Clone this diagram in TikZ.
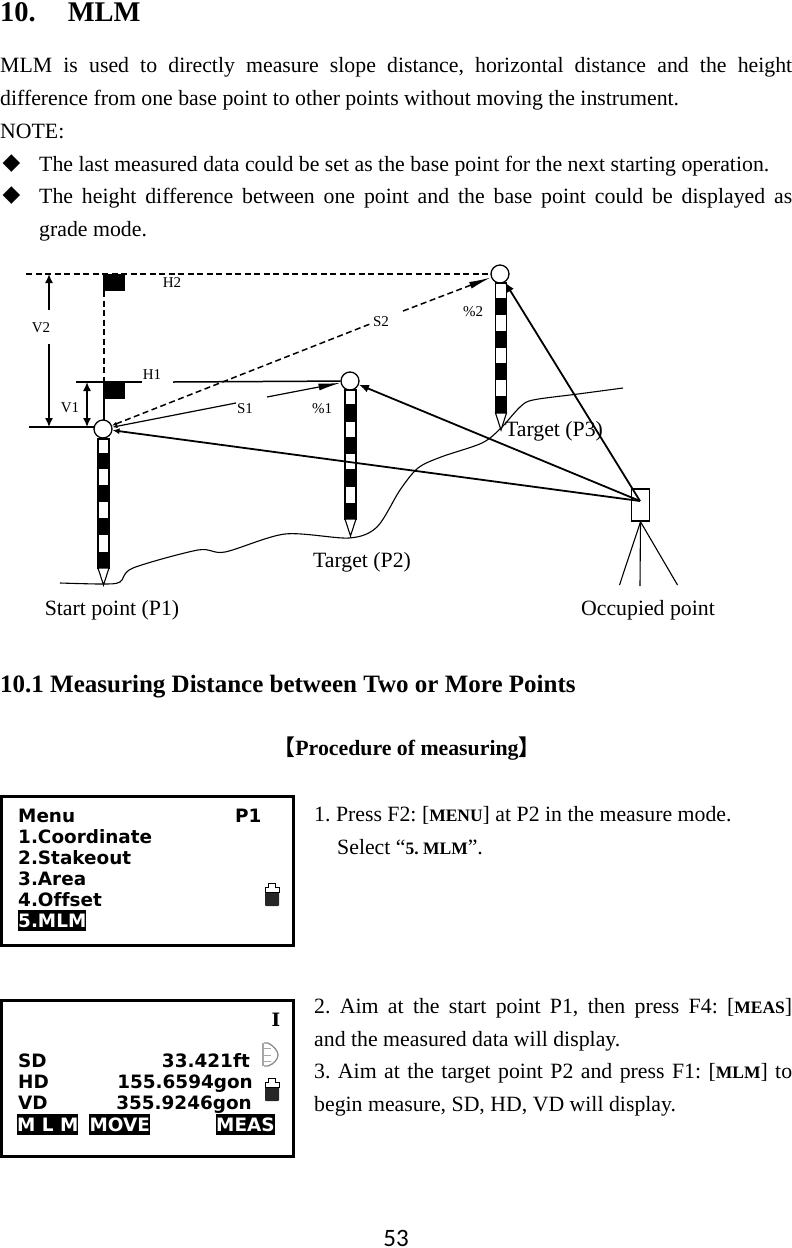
\documentclass[tikz,border=0pt]{standalone}
\usepackage{fontspec}
\usetikzlibrary{arrows.meta}
\setmainfont{Liberation Serif}
\newfontfamily\lcdfont[Ligatures=NoCommon]{DejaVu Sans}
\newfontfamily\lcdserif{DejaVu Serif}
\newfontfamily\symfont{DejaVu Sans}
\newfontfamily\cjkfont{Noto Sans CJK SC}
\newfontfamily\pagefont{Carlito}
\frenchspacing
\tikzset{
  body/.style={anchor=north west, inner sep=0pt, align=justify, font=\fontsize{21.8}{32.7}\selectfont},
  line1/.style={anchor=base west, inner sep=0pt, font=\fontsize{21.8}{26}\selectfont},
  small/.style={inner sep=0pt, font=\fontsize{15}{18}\selectfont},
  caption/.style={inner sep=0pt, font=\fontsize{21.8}{26}\selectfont},
  bulletmark/.style={inner sep=0pt, font=\symfont\fontsize{23}{25}\selectfont},
  head/.style={circle, draw, line width=1.3pt, fill=white, minimum size=18pt, inner sep=0pt},
  lcd/.style={anchor=base west, inner sep=0pt, font=\lcdfont\bfseries\fontsize{18.4}{21}\selectfont},
  lcdr/.style={anchor=base east, inner sep=0pt, font=\lcdfont\bfseries\fontsize{18.4}{21}\selectfont},
  softkey/.style={fill=black, text=white, inner sep=0pt, minimum height=21pt, font=\lcdfont\bfseries\fontsize{18.4}{21}\selectfont},
  screen/.style={draw, line width=3pt, anchor=north west, inner sep=0pt},
  sight/.style={line width=1.8pt, -{Latex[length=10pt,width=8pt]}},
  sightshort/.style={line width=1.8pt, -{Latex[length=7pt,width=6pt]}},
  dimline/.style={line width=1.5pt},
  dashline/.style={line width=1.5pt, dash pattern=on 6pt off 3.5pt},
  longtip/.style={-{Latex[length=22pt,width=7pt]}},
  shorttip/.style={{Latex[length=5pt,width=4pt]}-},
  dimtip/.style={-{Latex[length=9pt,width=8pt]}},
  battery/.pic={
    \fill[black!85, rounded corners=1pt] (-7,-4) rectangle (7,11);
    \draw[line width=1pt, fill=white] (-7,-3) -- (-7,-8) -- (-3.5,-8) -- (-3.5,-12) -- (3.5,-12) -- (3.5,-8) -- (7,-8) -- (7,-3) -- cycle;
  }
}
\newcommand{\mn}[1]{{\bfseries\fontsize{17.5}{20}\selectfont #1}}
\begin{document}
\begin{tikzpicture}[x=1pt,y=-1pt]
  \useasboundingbox (0,0) rectangle (792,1248);
  % text on top of the page
  \node[anchor=base west, inner sep=0pt, font=\bfseries\fontsize{28.5}{30}\selectfont] (title) at (0,21) {10.\hspace{32pt}MLM};
  \node[body, text width=792pt] (intro) at (0,57) {MLM is used to directly measure slope distance, horizontal distance and the height\linebreak difference from one base point to other points without moving the instrument.};
  \node[line1] (note) at (0,138) {NOTE:};
  \node[bulletmark] (bulletA) at (11.5,163.5) {◆};
  \node[line1] (noteA) at (39,171) {The last measured data could be set as the base point for the next starting operation.};
  \node[bulletmark] (bulletB) at (11.5,196) {◆};
  \node[body, text width=753pt] (noteB) at (39,188) {The height difference between one point and the base point could be displayed as\linebreak grade mode.};

  % ground line
  \draw[line width=1.1pt, smooth] plot coordinates {(60,583) (103,584) (120,582) (133,568) (198,550) (225,552) (285,534) (349,538) (377,527) (400,490) (418,468) (441,457) (482,443) (501,428) (520,407) (533,400) (578,394) (623,388)};

  % staffs
  \foreach \xs/\ya/\yb in {103.5/439/568, 350.5/390/519, 501/283/413}{
    \draw[line width=1.3pt, fill=white] (\xs-5.5,\ya) rectangle (\xs+5.5,\yb);
    \draw[line width=1.1pt, fill=white] (\xs-5.5,\yb) -- (\xs+5.5,\yb) -- (\xs,\yb+17) -- cycle;
  }
  \foreach \xs/\ya/\yb in {103.5/453/469, 103.5/485/502, 103.5/518/535, 103.5/552/568,
                           350.5/404/422, 350.5/437/454, 350.5/469/487, 350.5/503/519,
                           501/298/315, 501/331/348, 501/363/380, 501/396/413}{
    \fill (\xs-5.5,\ya) rectangle (\xs+5.5,\yb);
  }

  % flags
  \fill (103,274) rectangle (125,291);
  \fill (103,382) rectangle (125,399);
  \draw[dashline] (104,291) -- (104,382);
  \draw[dimline] (104,399) -- (104,422);

  % instrument
  \node[draw, line width=1.5pt, fill=white, minimum width=18pt, minimum height=32pt, inner sep=0pt] (occ) at (640.5,505) {};
  \coordinate (eye) at (640,501);
  \coordinate (legA) at (619.5,585);
  \coordinate (legB) at (640,586);
  \coordinate (legC) at (677.5,585);
  \draw[line width=1.1pt] (occ.south) -- (legA);
  \draw[line width=1.1pt] (occ.south) -- (legB);
  \draw[line width=1.1pt] (occ.south) -- (legC);

  % target heads
  \node[head] (pOne) at (103,429) {};
  \node[head] (pTwo) at (350,381) {};
  \node[head] (pThree) at (500,274) {};

  \draw[sightshort] (eye) -- (pOne);
  \draw[sight] (eye) -- (pTwo);
  \draw[sight] (eye) -- (pThree);

  % horizontal and vertical distances
  \coordinate (hTwoL) at (26,274);
  \coordinate (hOneL) at (76,382);
  \coordinate (hOneM) at (142,382);
  \coordinate (hOneN) at (173,382);
  \coordinate (baseL) at (29,427);
  \coordinate (baseR) at (95,427);
  \draw[dashline] (hTwoL) -- (pThree);
  \draw[dimline] (hOneL) -- (hOneM);
  \draw[dimline] (hOneN) -- (pTwo);
  \draw[dimline] (baseL) -- (baseR);

  \coordinate (vTwoT) at (49,274);
  \coordinate (vTwoM) at (49,310);
  \coordinate (vTwoN) at (49,344);
  \coordinate (vTwoB) at (49,427);
  \coordinate (vOneT) at (87,382);
  \coordinate (vOneB) at (87,427);
  \draw[dimline, dimtip] (vTwoM) -- (vTwoT);
  \draw[dimline, dimtip] (vTwoN) -- (vTwoB);
  \draw[dimline, {Latex[length=9pt,width=8pt]}-{Latex[length=9pt,width=8pt]}] (vOneT) -- (vOneB);

  % slope distances
  \coordinate (sOneA) at (236,403);
  \coordinate (sOneB) at (267,397);
  \coordinate (sTwoA) at (370,324);
  \coordinate (sTwoB) at (403,311);
  \draw[line width=1.2pt, shorttip] (pOne) -- (sOneA);
  \draw[line width=1.2pt, longtip] (sOneB) -- (pTwo);
  \draw[dashline, shorttip] (pOne) -- (sTwoA);
  \draw[dashline, longtip] (sTwoB) -- (pThree);

  \node[small] (lHtwo) at (172,283) {H2};
  \node[small] (lVtwo) at (41,328) {V2};
  \node[small] (lHone) at (152,375) {H1};
  \node[small] (lVone) at (70,408) {V1};
  \node[small] (lSone) at (245,409) {S1};
  \node[small] (lPone) at (322,409) {\%1};
  \node[small] (lStwo) at (381,322) {S2};
  \node[small] (lPtwo) at (473,312) {\%2};

  \node[caption] (tThree) at (554,431) {Target (P3)};
  \node[caption] (tTwo) at (362,562) {Target (P2)};
  \node[caption] (tOne) at (112,610) {Start point (P1)};
  \node[caption] (tOcc) at (648,610) {Occupied point};

  % section
  \node[anchor=base west, inner sep=0pt, font=\bfseries\fontsize{25}{28}\selectfont] (sect) at (0,692) {10.1 Measuring Distance between Two or More Points};
  \node[inner sep=0pt, font=\bfseries\fontsize{21.8}{26}\selectfont] (proc) at (407,749) {{\cjkfont 【}Procedure of measuring{\cjkfont 】}};

  % first display
  \node[screen, minimum width=292pt, minimum height=149pt] (scrA) at (0,795) {};
  \node[lcd] (mA) at (18,822) {Menu};
  \node[lcd] (mP) at (235,822) {P1};
  \node[lcd] (mB) at (18,843) {1.Coordinate};
  \node[lcd] (mC) at (18,864) {2.Stakeout};
  \node[lcd] (mD) at (18,885) {3.Area};
  \node[lcd] (mE) at (18,906) {4.Offset};
  \node[softkey, anchor=north west, minimum width=68pt] (mF) at (18,910) {5.MLM};
  \pic at (272,895) {battery};

  \node[line1] (stepA) at (314,821) {1. Press F2: [\mn{MENU}] at P2 in the measure mode.};
  \node[line1] (stepB) at (337,854) {Select “\mn{5. MLM}”.};

  % second display
  \node[screen, minimum width=292pt, minimum height=156pt] (scrB) at (0,999) {};
  \node[anchor=base, inner sep=0pt, font=\lcdserif\bfseries\fontsize{18.4}{21}\selectfont] (dI) at (276,1026) {I};
  \node[lcd] (dSD) at (18,1067) {SD};
  \node[lcd] (dHD) at (18,1088) {HD};
  \node[lcd] (dVD) at (18,1109) {VD};
  \node[lcdr] (vSD) at (250,1067) {33.421ft};
  \node[lcdr] (vHD) at (253,1088) {155.6594gon};
  \node[lcdr] (vVD) at (252,1109) {355.9246gon};
  \node[softkey, anchor=north west, minimum width=61pt] (kA) at (17,1114) {M L M};
  \node[softkey, anchor=north west, minimum width=61pt] (kB) at (89,1114) {MOVE};
  \node[softkey, anchor=north west, minimum width=58pt] (kC) at (216,1114) {MEAS};
  % prism mark
  \draw[black!35, line width=2.5pt] (263,1043) -- (263,1066);
  \draw[black!45, line width=1.3pt] (264,1043) -- (268,1043) .. controls (274,1046) and (278,1051) .. (278,1055) .. controls (278,1059) and (274,1064) .. (268,1066) -- (264,1066);
  \foreach \yt in {1048,1055,1061}{
    \draw[black!35, line width=1pt] (264,\yt) -- (271,\yt);
  }
  \pic at (272,1090) {battery};

  \node[body, text width=478pt] (stepC) at (314,998) {2. Aim at the start point P1, then press F4: [\mn{MEAS}]\linebreak and the measured data will display.\\ 3. Aim at the target point P2 and press F1: [\mn{MLM}] to\linebreak begin measure, SD, HD, VD will display.};

  \node[inner sep=0pt, font=\pagefont\fontsize{25}{28}\selectfont] (page) at (396,1238) {53};
\end{tikzpicture}
\end{document}
